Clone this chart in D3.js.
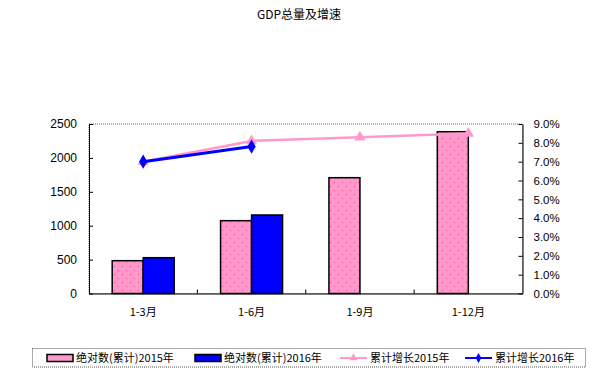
<!DOCTYPE html>
<html><head><meta charset="utf-8">
<script src="https://cdn.jsdelivr.net/npm/d3@7"></script>
<style>
body{margin:0;background:#fff;}
svg{display:block;}
text{font-family:"Liberation Sans",Arial,sans-serif;}
.cjk{font-family:"Noto Sans CJK SC",sans-serif;}
</style></head>
<body>
<script>
const categories = ["1-3月","1-6月","1-9月","1-12月"];
const abs2015 = [484, 1074, 1708, 2386];
const abs2016 = [528, 1158, null, null];
const growth2015 = [7.0, 8.1, 8.3, 8.5];
const growth2016 = [7.0, 7.8, null, null];
const leftTicks = [0,500,1000,1500,2000,2500];
const rightTicks = [0,1,2,3,4,5,6,7,8,9];
const seriesNames = ["绝对数(累计)2015年","绝对数(累计)2016年","累计增长2015年","累计增长2016年"];

const W=613,H=370;
const svg=d3.select("body").append("svg").attr("width",W).attr("height",H);
const defs=svg.append("defs");
const pat=defs.append("pattern").attr("id","dots").attr("patternUnits","userSpaceOnUse").attr("width",8).attr("height",8);
pat.append("rect").attr("width",8).attr("height",8).attr("fill","#FF99CC");
pat.append("rect").attr("x",2).attr("y",2).attr("width",1).attr("height",1).attr("fill","#E8508C");
pat.append("rect").attr("x",6).attr("y",6).attr("width",1).attr("height",1).attr("fill","#E8508C");

const L=89,R=522.5,T=124,B=293.5;
const x=d3.scaleBand().domain(categories).range([L,R]);
const yL=d3.scaleLinear().domain([0,2500]).range([B,T]);
const yR=d3.scaleLinear().domain([0,9]).range([B,T]);
const bw=31;

svg.append("text").attr("class","cjk").attr("x",299).attr("y",19).attr("text-anchor","middle")
  .attr("font-size",12).text("GDP总量及增速");

// plot border
svg.append("rect").attr("x",L).attr("y",T).attr("width",R-L).attr("height",B-T)
  .attr("fill","none").attr("stroke","#666").attr("stroke-width",1).attr("stroke-dasharray","1,1");

// bars
const g=svg.append("g");
categories.forEach((c,i)=>{
  const cx=x(c)+x.bandwidth()/2;
  if(abs2015[i]!=null) g.append("rect").attr("x",cx-bw).attr("y",yL(abs2015[i])).attr("width",bw)
    .attr("height",B-yL(abs2015[i])).attr("fill","url(#dots)").attr("stroke","#000").attr("stroke-width",1.5);
  if(abs2016[i]!=null) g.append("rect").attr("x",cx).attr("y",yL(abs2016[i])).attr("width",bw)
    .attr("height",B-yL(abs2016[i])).attr("fill","#0000FF").attr("stroke","#000").attr("stroke-width",1.5);
});

// axes
const axL=d3.axisLeft(yL).tickValues(leftTicks).tickSizeInner(-4).tickSizeOuter(0).tickPadding(12).tickFormat(d3.format("d"));
const gL=svg.append("g").attr("transform",`translate(${L},0)`).call(axL);
const axR=d3.axisRight(yR).tickValues(rightTicks).tickSizeInner(-4).tickSizeOuter(0).tickPadding(11).tickFormat(d=>d.toFixed(1)+"%");
const gR=svg.append("g").attr("transform",`translate(${R},0)`).call(axR);
[gL,gR].forEach(a=>{a.select(".domain").attr("stroke","#000");a.selectAll(".tick line").attr("stroke","#000");
  a.selectAll("text").attr("font-size",12).attr("fill","#000").attr("font-family","Liberation Sans, Arial, sans-serif");});
gR.selectAll("text").attr("font-size",11.5);
const axB=d3.axisBottom(x).tickSize(0).tickPadding(15);
const gB=svg.append("g").attr("transform",`translate(0,${B})`).call(axB);
gB.select(".domain").attr("stroke","#000");
gB.selectAll("text").attr("class","cjk").attr("font-size",11).attr("fill","#000").attr("font-family","Noto Sans CJK SC, sans-serif");
categories.slice(1).forEach(c=>{
  svg.append("line").attr("x1",x(c)).attr("x2",x(c)).attr("y1",B).attr("y2",B-4).attr("stroke","#000");
});

// lines
const cxf=(d,i)=>x(categories[i])+x.bandwidth()/2;
const line=d3.line().defined(d=>d!=null).x((d,i)=>cxf(d,i)).y(d=>yR(d));
svg.append("path").datum(growth2015).attr("d",line).attr("fill","none").attr("stroke","#FF99CC").attr("stroke-width",2.5);
const tri=d3.symbol().type(d3.symbolTriangle).size(55);
growth2015.forEach((d,i)=>{ if(d!=null) svg.append("path").attr("d",tri()).attr("fill","#FF99CC")
  .attr("transform",`translate(${cxf(d,i)},${yR(d)})`);});
svg.append("path").datum(growth2016).attr("d",line).attr("fill","none").attr("stroke","#0000FF").attr("stroke-width",3);
const dia=d3.symbol().type(d3.symbolDiamond).size(60);
growth2016.forEach((d,i)=>{ if(d!=null) svg.append("path").attr("d",dia()).attr("fill","#0000FF")
  .attr("transform",`translate(${cxf(d,i)},${yR(d)})`);});

// legend
const lg=svg.append("g");
lg.append("rect").attr("x",32.5).attr("y",348.5).attr("width",553).attr("height",18.5)
  .attr("fill","none").attr("stroke","#555").attr("stroke-dasharray","1,1");
const ly=358;
const items=[{x:47,t:"bar",f:"#FF99CC"},{x:195,t:"bar",f:"#0000FF"},{x:340,t:"line",f:"#FF99CC",m:"tri"},{x:465,t:"line",f:"#0000FF",m:"dia"}];
items.forEach((it,i)=>{
  if(it.t==="bar"){
    lg.append("rect").attr("x",it.x).attr("y",ly-3.5).attr("width",26).attr("height",7)
      .attr("fill",it.f).attr("stroke","#000").attr("stroke-width",1.5);
  } else {
    lg.append("line").attr("x1",it.x).attr("x2",it.x+27).attr("y1",ly).attr("y2",ly).attr("stroke",it.f).attr("stroke-width",2);
    const s=it.m==="tri"?d3.symbol().type(d3.symbolTriangle).size(28):d3.symbol().type(d3.symbolDiamond).size(28);
    lg.append("path").attr("d",s()).attr("fill",it.f).attr("transform",`translate(${it.x+13.5},${ly})`);
  }
  lg.append("text").attr("class","cjk").attr("x",it.x+(it.t==="bar"?29:30)).attr("y",ly+4).attr("font-size",11)
    .attr("fill","#000").text(seriesNames[i]);
});
</script>
</body></html>
